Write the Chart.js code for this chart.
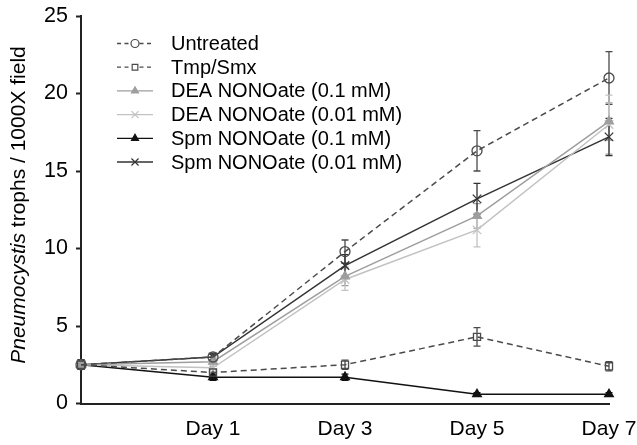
<!DOCTYPE html>
<html>
<head>
<meta charset="utf-8">
<script src="https://cdn.jsdelivr.net/npm/chart.js@4/dist/chart.umd.min.js"></script>
<style>
  html, body { margin: 0; padding: 0; background: #fff; }
  #wrap { width: 637px; height: 445px; position: relative; }
</style>
</head>
<body>
<div id="wrap"><canvas id="c" width="637" height="445"></canvas></div>
<script>
// ---- data ----
const categories = ['', 'Day 1', 'Day 3', 'Day 5', 'Day 7'];
const seriesNames = ['Untreated', 'Tmp/Smx', 'DEA NONOate (0.1 mM)', 'DEA NONOate (0.01 mM)', 'Spm NONOate (0.1 mM)', 'Spm NONOate (0.01 mM)'];
const untreated = [2.5, 3.0, 9.8, 16.3, 21.0];
const tmpSmx    = [2.5, 2.0, 2.5, 4.3, 2.4];
const dea01     = [2.5, 2.7, 8.2, 12.1, 18.2];
const dea001    = [2.5, 2.3, 8.0, 11.2, 18.0];
const spm01     = [2.5, 1.7, 1.7, 0.6, 0.6];
const spm001    = [2.5, 3.0, 8.9, 13.2, 17.2];
const untreatedErr = [0.3, 0.2, 0.75, 1.3, 1.7];
const tmpSmxErr    = [0.3, 0.2, 0.3, 0.6, 0.3];
const dea01Err     = [0.3, 0.3, 0.6, 0.8, 1.2];
const dea001Err    = [0.3, 0.3, 0.7, 1.1, 1.9];
const spm01Err     = [0.3, 0.2, 0.2, 0.1, 0.1];
const spm001Err    = [0.3, 0.2, 0.7, 1.0, 1.2];
const yTicks = [0, 5, 10, 15, 20, 25];

const FONT = 'Liberation Sans, Arial, sans-serif';

function ds(label, data, err, color, dash, pointStyle, fill, radius) {
  return {
    label, data, err,
    borderColor: color,
    borderWidth: 1.5,
    borderDash: dash,
    pointStyle,
    pointRadius: radius,
    pointHoverRadius: radius,
    pointBorderColor: color,
    pointBackgroundColor: fill,
    pointBorderWidth: 1.3,
    tension: 0,
    clip: false
  };
}

const datasets = [
  ds(seriesNames[0], untreated, untreatedErr, '#4a4a4a', [6, 4], 'circle', 'rgba(255,255,255,0)', 5),
  ds(seriesNames[1], tmpSmx, tmpSmxErr, '#4a4a4a', [6, 4], 'rect', 'rgba(255,255,255,0)', 5),
  ds(seriesNames[2], dea01, dea01Err, '#9e9e9e', [], 'triangle', '#9e9e9e', 5),
  ds(seriesNames[3], dea001, dea001Err, '#c2c2c2', [], 'crossRot', '#c2c2c2', 6),
  ds(seriesNames[4], spm01, spm01Err, '#111111', [], 'triangle', '#111111', 5),
  ds(seriesNames[5], spm001, spm001Err, '#333333', [], 'crossRot', '#333333', 6)
];

const errorBars = {
  id: 'errorBars',
  beforeDatasetsDraw(chart) {
    const ctx = chart.ctx, xs = chart.scales.x, ys = chart.scales.y;
    ctx.save();
    chart.data.datasets.forEach(d => {
      ctx.strokeStyle = d.borderColor;
      ctx.lineWidth = 1.3;
      ctx.setLineDash([]);
      d.data.forEach((v, i) => {
        const e = d.err[i];
        const x = xs.getPixelForValue(i);
        const y1 = ys.getPixelForValue(v + e), y2 = ys.getPixelForValue(v - e);
        ctx.beginPath();
        ctx.moveTo(x, y1); ctx.lineTo(x, y2);
        ctx.moveTo(x - 3.5, y1); ctx.lineTo(x + 3.5, y1);
        ctx.moveTo(x - 3.5, y2); ctx.lineTo(x + 3.5, y2);
        ctx.stroke();
      });
    });
    ctx.restore();
  }
};

const legendPlugin = {
  id: 'insideLegend',
  afterDraw(chart) {
    const ctx = chart.ctx;
    ctx.save();
    const x0 = 117, x1 = 153, xm = 135, xt = 171, yStart = 43.5, step = 23.7;
    chart.data.datasets.forEach((d, i) => {
      const y = yStart + i * step;
      ctx.strokeStyle = d.borderColor;
      ctx.lineWidth = 1.3;
      ctx.setLineDash(d.borderDash.length ? [4, 3.5] : []);
      ctx.beginPath(); ctx.moveTo(x0, y); ctx.lineTo(x1, y); ctx.stroke();
      ctx.setLineDash([]);
      ctx.fillStyle = d.borderDash.length ? '#fff' : d.pointBackgroundColor;
      ctx.strokeStyle = d.pointBorderColor;
      ctx.lineWidth = 1.2;
      Chart.helpers.drawPoint(ctx, { pointStyle: d.pointStyle, radius: d.pointStyle === 'crossRot' ? 5 : 4, rotation: 0, borderWidth: 1.2 }, xm, y);
      ctx.fillStyle = '#000';
      ctx.font = '20px ' + FONT;
      ctx.textBaseline = 'middle';
      ctx.textAlign = 'left';
      ctx.fillText(d.label, xt, y + 1);
    });
    ctx.restore();
  }
};

const yTitle = {
  id: 'yTitle',
  afterDraw(chart) {
    const ctx = chart.ctx;
    ctx.save();
    const a = 'Pneumocystis', b = ' trophs / 1000X field';
    ctx.font = 'italic 21px ' + FONT;
    const wa = ctx.measureText(a).width;
    ctx.font = '21px ' + FONT;
    const wb = ctx.measureText(b).width;
    const total = wa + wb;
    ctx.translate(19, 205);
    ctx.rotate(-Math.PI / 2);
    ctx.fillStyle = '#000';
    ctx.textBaseline = 'middle';
    ctx.textAlign = 'left';
    ctx.font = 'italic 21px ' + FONT;
    ctx.fillText(a, -total / 2, 0);
    ctx.font = '21px ' + FONT;
    ctx.fillText(b, -total / 2 + wa, 0);
    ctx.restore();
  }
};

new Chart(document.getElementById('c'), {
  type: 'line',
  data: { labels: categories, datasets },
  options: {
    responsive: false,
    animation: false,
    devicePixelRatio: 1,
    layout: { padding: { top: 16, right: 28, left: 0, bottom: 0 } },
    plugins: { legend: { display: false }, tooltip: { enabled: false } },
    scales: {
      x: {
        type: 'category',
        offset: false,
        grid: { display: false, drawTicks: false },
        border: { display: true, color: '#222', width: 2 },
        ticks: { color: '#000', font: { family: FONT, size: 21 }, padding: 13, maxRotation: 0, autoSkip: false },
        afterFit(s) { s.height = 41.5; s.paddingRight = 0; s.paddingLeft = 0; }
      },
      y: {
        min: 0, max: 25,
        afterBuildTicks(s) { s.ticks = yTicks.map(v => ({ value: v })); },
        grid: { drawOnChartArea: false, drawTicks: true, tickLength: 5, color: '#222', tickWidth: 2 },
        border: { display: true, color: '#222', width: 2 },
        ticks: { color: '#000', font: { family: FONT, size: 21.5 }, padding: 8 },
        afterFit(s) { s.width = 81; s.paddingTop = 0; s.paddingBottom = 0; }
      }
    }
  },
  plugins: [errorBars, legendPlugin, yTitle]
});
</script>
</body>
</html>
